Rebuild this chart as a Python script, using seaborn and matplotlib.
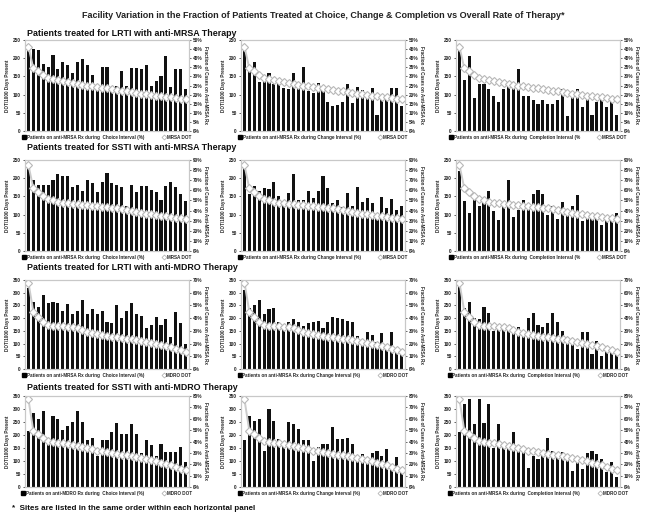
import numpy as np
import matplotlib
matplotlib.use("Agg")
import matplotlib.pyplot as plt
from matplotlib.lines import Line2D
from matplotlib.ticker import FuncFormatter
import seaborn as sns

sns.set_style("white")
plt.rcParams['font.family'] = ['Liberation Sans', 'DejaVu Sans']
plt.rcParams['font.weight'] = 'bold'

sites = list(range(1, 34))

# overall DOT per site (same within a horizontal panel)
dot_lrti_mrsa = [232, 172, 165, 155, 146, 142, 139, 136, 134, 131, 129, 127, 125, 123, 121, 119, 117,
                 115, 113, 111, 109, 107, 105, 103, 101, 99, 97, 96, 94, 93, 91, 89, 87]
dot_ssti_mrsa = [236, 172, 163, 152, 144, 139, 135, 133, 131, 129, 128, 127, 126, 125, 124, 122, 121,
                 119, 117, 115, 112, 109, 107, 105, 103, 101, 99, 97, 95, 93, 92, 90, 89]
dot_lrti_mdro = [340, 225, 206, 185, 173, 170, 169, 168, 167, 166, 160, 152, 146, 141, 138, 135, 130,
                 127, 124, 121, 119, 117, 115, 112, 108, 104, 100, 95, 90, 85, 80, 75, 65]
dot_ssti_mdro = [337, 216, 204, 190, 176, 172, 170, 168, 165, 160, 157, 153, 149, 145, 140, 137, 134,
                 131, 128, 125, 122, 118, 115, 111, 108, 104, 99, 94, 89, 83, 77, 70, 64]

# % of patients on therapy during each interval
lrti_mrsa_choice = [46, 45, 44.4, 37, 35, 41.6, 34, 38, 36, 32, 38, 39.4, 36, 31, 23, 35, 35, 23, 25, 33,
                    25, 34.4, 34.4, 34, 36, 25, 27.4, 30, 41, 24, 34, 34, 23]
lrti_mrsa_change = [45.6, 34, 38, 27, 28, 32, 26, 26, 23.6, 23, 32, 25, 35, 22, 21, 26.4, 23.6, 16, 13.6,
                    14.4, 16, 25.6, 15.6, 24.4, 22.4, 20, 23.6, 9, 19.6, 18.4, 23.6, 23.6, 13.6]
lrti_mrsa_completion = [45, 28, 41, 18, 26, 26, 23, 19, 16, 23, 25, 25, 34, 19, 19, 17, 15, 17, 15, 15,
                        17, 23, 8, 20, 23, 13, 19, 9, 16, 19, 13, 18, 9]

ssti_mrsa_choice = [82, 70, 65, 65, 65, 70, 76, 74, 74, 63, 65, 59, 70, 67, 58, 68, 77, 67, 65, 63, 45,
                    65, 58, 64, 64, 60, 58, 50, 64, 68, 63, 56, 49]
ssti_mrsa_change = [82, 56, 64, 59, 62, 61, 68, 54, 46, 57, 76, 50, 50, 59, 52, 59, 74, 62, 47, 50, 44,
                    57, 45, 63, 48, 52, 47, 36, 53, 43, 51, 41, 45]
ssti_mrsa_completion = [79, 49, 38, 50, 45, 47, 59, 40, 31, 45, 70, 34, 41, 50, 43, 56, 60, 56, 36, 45,
                        32, 48, 36, 45, 55, 30, 35, 35, 35, 26, 32, 32, 38]

lrti_mdro_choice = [64, 53, 49, 58, 52, 53, 52, 46, 51, 43, 46, 54, 43, 47, 43, 45.6, 37, 36, 50, 40, 46,
                    52, 43, 42, 32, 35, 41, 35, 39, 25, 45, 36, 20]
lrti_mdro_change = [62, 48, 50, 54, 43, 47, 48, 37, 35, 37, 39, 37, 34, 36, 37, 38, 32, 37, 41, 40, 39,
                    38, 37, 26, 20, 29, 27, 21, 28, 15, 29, 16, 12]
lrti_mdro_completion = [66, 48, 53, 40, 39, 49, 44, 30, 33, 32, 31, 31, 33, 27, 40, 44, 35, 33, 36, 44,
                        37, 30, 24, 19, 16, 29, 29, 12, 22, 10, 16, 14, 11]

ssti_mdro_choice = [49, 65, 60, 67, 40, 62, 60, 50, 54, 57, 67, 57, 41, 43, 27, 41, 41, 48, 56, 47, 47,
                    55, 47, 30, 41, 37, 27, 38, 31, 31, 31, 35, 22]
ssti_mdro_change = [41, 62, 58, 60, 32, 69, 58, 42, 38, 57, 55, 51, 41, 41, 23, 35, 38, 38, 53, 42, 42,
                    43, 38, 24, 29, 24, 30, 32, 27, 33, 18, 26, 14]
ssti_mdro_completion = [48, 73, 77, 55, 77, 56, 73, 34, 55, 38, 34, 48, 32, 34, 17, 27, 25, 32, 43, 32,
                        30, 31, 25, 14, 22, 16, 30, 32, 29, 25, 13, 22, 9]

row_titles = ["Patients treated for LRTI with anti-MRSA Therapy",
              "Patients treated for SSTI with anti-MRSA Therapy",
              "Patients treated for LRTI with anti-MDRO Therapy",
              "Patients treated for SSTI with anti-MDRO Therapy"]
dot_rows = [dot_lrti_mrsa, dot_ssti_mrsa, dot_lrti_mdro, dot_ssti_mdro]
bar_rows = [[lrti_mrsa_choice, lrti_mrsa_change, lrti_mrsa_completion],
            [ssti_mrsa_choice, ssti_mrsa_change, ssti_mrsa_completion],
            [lrti_mdro_choice, lrti_mdro_change, lrti_mdro_completion],
            [ssti_mdro_choice, ssti_mdro_change, ssti_mdro_completion]]
dot_max = [250, 250, 350, 350]
pct_max = [50, 90, 70, 80]
pct_step = [5, 10, 10, 10]
bar_labels = [["Patients on anti-MRSA Rx during  Choice Interval (%)",
               "Patients on anti-MRSA Rx during Change Interval (%)",
               "Patients on anti-MRSA Rx during  Completion Interval (%"],
              ["Patients on anti-MRSA Rx during  Choice Interval (%)",
               "Patients on anti-MRSA Rx during Change Interval (%)",
               "Patients on anti-MRSA Rx during  Completion Interval (%"],
              ["Patients on anti-MRSA Rx during  Choice Interval (%)",
               "Patients on anti-MRSA Rx during Change Interval (%)",
               "Patients on anti-MRSA Rx during  Completion Interval (%)"],
              ["Patients on anti-MDRO Rx during  Choice Interval (%)",
               "Patients on anti-MRSA Rx during Change Interval (%)",
               "Patients on anti-MRSA Rx during  Completion Interval (%)"]]
dot_labels = ["MRSA DOT", "MRSA DOT", "MDRO DOT", "MDRO DOT"]

W, H = 646, 517
fig = plt.figure(figsize=(W / 100, H / 100), dpi=100)

row_px = [(40, 131), (160, 251), (280, 369), (396, 487)]
col_px = [(25, 189), (241, 405), (456, 620)]
title_px = [33, 147, 267, 387]

fig.text(323 / W, 1 - 15 / H,
         "Facility Variation in the Fraction of Patients Treated at Choice, Change & Completion vs Overall Rate of Therapy*",
         ha="center", va="center", fontsize=6.5, fontweight="bold", color="#222222")

frame = "#c8c8c8"
for r in range(4):
    fig.text(27 / W, 1 - title_px[r] / H, row_titles[r], ha="left", va="center",
             fontsize=6.4, fontweight="bold", color="#111111")
    top, bot = row_px[r]
    for c in range(3):
        left, right = col_px[c]
        ax = fig.add_axes([left / W, 1 - bot / H, (right - left) / W, (bot - top) / H])
        ax2 = ax.twinx()
        ax.set_zorder(2)
        ax2.set_zorder(1)
        ax.patch.set_visible(False)

        sns.barplot(x=sites, y=bar_rows[r][c], ax=ax2, color="#111111", saturation=1,
                    width=0.64, linewidth=0)
        sns.lineplot(x=np.arange(len(sites)), y=dot_rows[r], ax=ax, color="#cccccc",
                     linewidth=1.4, marker="D", markersize=3.6, markerfacecolor="white",
                     markeredgecolor="#b8b8b8", markeredgewidth=0.8)

        ax.set_xlim(-0.7, len(sites) - 0.3)
        ax.set_ylim(0, dot_max[r])
        ax.set_yticks(np.arange(0, dot_max[r] + 1, 50))
        ax2.set_ylim(0, pct_max[r])
        ax2.set_yticks(np.arange(0, pct_max[r] + 1, pct_step[r]))
        ax2.yaxis.set_major_formatter(FuncFormatter(lambda v, p: f"{v:.0f}%"))
        ax.set_xticks([])
        ax2.set_xticks([])
        ax2.set_xlabel("")
        ax.set_xlabel("")

        for a in (ax, ax2):
            for s in a.spines.values():
                s.set_color(frame)
                s.set_linewidth(0.8)
            a.tick_params(axis="y", labelsize=3.4, length=1.5, width=0.5, pad=1.5, colors="#222222")

        ax.set_ylabel("DOT/1000 Days Present", fontsize=3.3, fontweight="bold", labelpad=2)
        ax2.set_ylabel("Fraction of Cases on Anti-MRSA Rx", fontsize=3.3, fontweight="bold",
                       rotation=-90, labelpad=4)

        handles = [Line2D([], [], marker="s", color="black", linestyle="", markersize=2.5),
                   Line2D([], [], marker="D", color="#b4b4b4", markerfacecolor="white",
                          linestyle="", markersize=2.5, markeredgewidth=0.6)]
        ax.legend(handles, [bar_labels[r][c], dot_labels[r]], loc="upper center",
                  bbox_to_anchor=(0.5, -0.005), ncol=2, fontsize=3.3, frameon=False,
                  handlelength=0.6, handletextpad=0.3, columnspacing=4, borderpad=0.2)

fig.text(12 / W, 1 - 508 / H, "*  Sites are listed in the same order within each horizontal panel",
         ha="left", va="center", fontsize=5.8, fontweight="bold", color="#111111")

fig.savefig("out.png", dpi=100, facecolor="white")
